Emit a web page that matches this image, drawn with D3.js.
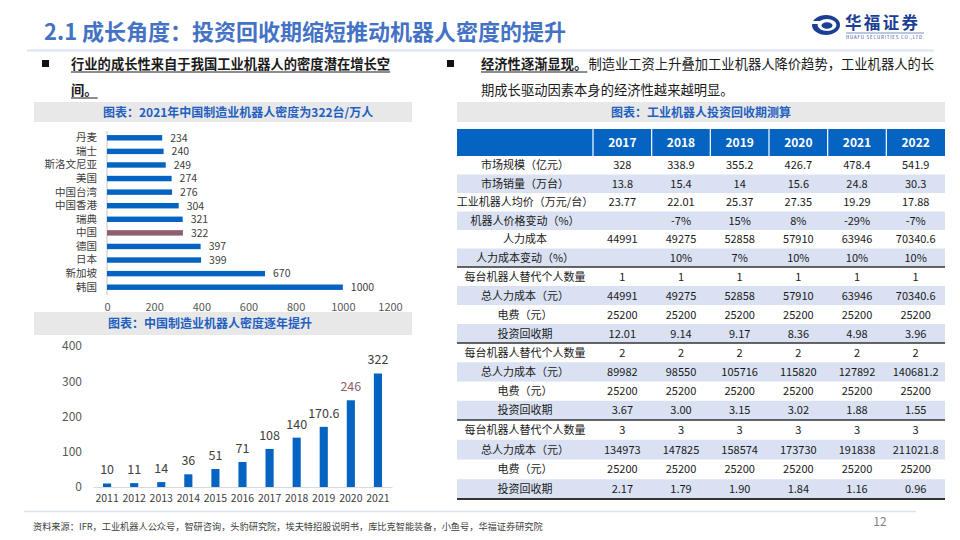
<!DOCTYPE html>
<html>
<head>
<meta charset="utf-8">
<script src="https://cdn.jsdelivr.net/npm/d3@7"></script>
<style>
  html, body { margin: 0; padding: 0; background: #fff; }
  svg { display: block; }
  text { font-family: "Noto Sans CJK SC", "Microsoft YaHei", sans-serif; }
</style>
</head>
<body>
<svg id="chart" width="960" height="540"></svg>
<script>
// ---------------- DATA ----------------
const countries = ["丹麦","瑞士","斯洛文尼亚","美国","中国台湾","中国香港","瑞典","中国","德国","日本","新加坡","韩国"];
const density2021 = [234,240,249,274,276,304,321,322,397,399,670,1000];
const densityTicks = [0,200,400,600,800,1000,1200];

const years = ["2011","2012","2013","2014","2015","2016","2017","2018","2019","2020","2021"];
const densityChina = [10,11,14,36,51,71,108,140,170.6,246,322];
const chinaTicks = [0,100,200,300,400];

const tableYears = ["2017","2018","2019","2020","2021","2022"];
const rowLabels = [
  "市场规模（亿元）","市场销量（万台）","工业机器人均价（万元/台）","机器人价格变动（%）","人力成本","人力成本变动（%）",
  "每台机器人替代个人数量","总人力成本（元）","电费（元）","投资回收期",
  "每台机器人替代个人数量","总人力成本（元）","电费（元）","投资回收期",
  "每台机器人替代个人数量","总人力成本（元）","电费（元）","投资回收期"
];
const rowValues = [
  ["328","338.9","355.2","426.7","478.4","541.9"],
  ["13.8","15.4","14","15.6","24.8","30.3"],
  ["23.77","22.01","25.37","27.35","19.29","17.88"],
  ["","-7%","15%","8%","-29%","-7%"],
  ["44991","49275","52858","57910","63946","70340.6"],
  ["","10%","7%","10%","10%","10%"],
  ["1","1","1","1","1","1"],
  ["44991","49275","52858","57910","63946","70340.6"],
  ["25200","25200","25200","25200","25200","25200"],
  ["12.01","9.14","9.17","8.36","4.98","3.96"],
  ["2","2","2","2","2","2"],
  ["89982","98550","105716","115820","127892","140681.2"],
  ["25200","25200","25200","25200","25200","25200"],
  ["3.67","3.00","3.15","3.02","1.88","1.55"],
  ["3","3","3","3","3","3"],
  ["134973","147825","158574","173730","191838","211021.8"],
  ["25200","25200","25200","25200","25200","25200"],
  ["2.17","1.79","1.90","1.84","1.16","0.96"]
];
const groupBreaks = [6,10,14];

// ---------------- STYLE ----------------
const BLUE = "#0563C1";
const MAUVE = "#8E5F6E";
const HEAD_BLUE = "#1F60C0";
const svg = d3.select("#chart");
svg.append("rect").attr("width",960).attr("height",540).attr("fill","#fff");

// ---------------- TITLE ----------------
svg.append("text").attr("x",44).attr("y",40)
  .attr("font-size",22).attr("font-weight","bold").attr("fill","#4472C4")
  .text("2.1 成长角度：投资回收期缩短推动机器人密度的提升");
svg.append("line").attr("x1",27).attr("x2",934).attr("y1",50.5).attr("y2",50.5)
  .attr("stroke","#DDE4F0").attr("stroke-width",2);

// logo
const logo = svg.append("g");
logo.append("ellipse").attr("cx",826).attr("cy",25).attr("rx",14).attr("ry",10).attr("fill","#1B3F94");
logo.append("ellipse").attr("cx",827).attr("cy",25).attr("rx",9.5).attr("ry",6).attr("fill","#fff");
logo.append("ellipse").attr("cx",827).attr("cy",25.5).attr("rx",5.5).attr("ry",3.3).attr("fill","#1B3F94");
logo.append("rect").attr("x",812).attr("y",21).attr("width",8).attr("height",3).attr("fill","#fff");
logo.append("text").attr("x",845).attr("y",28.5).attr("font-size",16.5).attr("font-weight","bold")
  .attr("fill","#1B3F94").attr("textLength",73).text("华福证券");
logo.append("line").attr("x1",846).attr("x2",924).attr("y1",33).attr("y2",33).attr("stroke","#1B3F94").attr("stroke-width",0.6);
logo.append("text").attr("x",846).attr("y",39).attr("font-size",4.4).attr("fill","#1B3F94")
  .attr("textLength",78).text("HUAFU SECURITIES CO.,LTD.");

// ---------------- BULLETS ----------------
function underlined(g, x, y, txt, opts) {
  const t = g.append("text").attr("x",x).attr("y",y).attr("font-size",13.3)
    .attr("font-weight",opts.bold ? "bold" : "normal").attr("fill","#1a1a1a").text(txt);
  const w = t.node().getComputedTextLength();
  if (opts.underline) {
    g.append("line").attr("x1",x).attr("x2",x+w).attr("y1",y+3).attr("y2",y+3)
      .attr("stroke","#1a1a1a").attr("stroke-width",1);
  }
  return w;
}
svg.append("rect").attr("x",42).attr("y",60).attr("width",7).attr("height",7).attr("fill","#111");
underlined(svg,71,69,"行业的成长性来自于我国工业机器人的密度潜在增长空",{bold:true,underline:true});
underlined(svg,71,95,"间。",{bold:true,underline:true});

svg.append("rect").attr("x",447).attr("y",60).attr("width",7).attr("height",7).attr("fill","#111");
const w1 = underlined(svg,481,69,"经济性逐渐显现。",{bold:true,underline:true});
underlined(svg,481+w1+1,69,"制造业工资上升叠加工业机器人降价趋势，工业机器人的长",{bold:false,underline:false});
underlined(svg,481,95,"期成长驱动因素本身的经济性越来越明显。",{bold:false,underline:false});

// ---------------- CHART 1 : horizontal bars ----------------
svg.append("rect").attr("x",34).attr("y",102).attr("width",378).attr("height",20).attr("fill","#E8E8E8");
svg.append("text").attr("x",103).attr("y",116.5).attr("font-size",12).attr("font-weight","bold")
  .attr("fill",HEAD_BLUE).text("图表：2021年中国制造业机器人密度为322台/万人");

const hx = d3.scaleLinear().domain([0,1200]).range([107,390]);
const hy = d3.scaleBand().domain(countries).range([131,294]).paddingInner(0.6).paddingOuter(0.3);

svg.append("line").attr("x1",107).attr("x2",107).attr("y1",131).attr("y2",295)
  .attr("stroke","#D9D9D9").attr("stroke-width",1.5);

svg.append("g").selectAll("rect").data(countries).join("rect")
  .attr("x",hx(0)).attr("y",d=>hy(d))
  .attr("width",(d,i)=>hx(density2021[i])-hx(0))
  .attr("height",hy.bandwidth())
  .attr("fill",d=> d==="中国" ? MAUVE : BLUE);

svg.append("g").selectAll("text").data(countries).join("text")
  .attr("x",(d,i)=>hx(density2021[i])+8)
  .attr("y",d=>hy(d)+hy.bandwidth()/2+3.8)
  .attr("font-size",10.5).attr("fill","#404040")
  .text((d,i)=>density2021[i]);

const hyAxis = svg.append("g").attr("transform","translate(107,0)")
  .call(d3.axisLeft(hy).tickSize(0).tickPadding(10));
hyAxis.select(".domain").remove();
hyAxis.selectAll("text").attr("font-size",10.5).attr("fill","#404040")
  .attr("font-family","\"Noto Sans CJK SC\", sans-serif");

const hxAxis = svg.append("g").attr("transform","translate(0,294)")
  .call(d3.axisBottom(hx).tickValues(densityTicks).tickFormat(d3.format("d")).tickSize(0).tickPadding(9));
hxAxis.select(".domain").remove();
hxAxis.selectAll("text").attr("font-size",11).attr("fill","#595959")
  .attr("font-family","\"Noto Sans CJK SC\", sans-serif");

// ---------------- CHART 2 : vertical bars ----------------
svg.append("rect").attr("x",34).attr("y",312).attr("width",378).attr("height",23).attr("fill","#E8E8E8");
svg.append("text").attr("x",108).attr("y",328).attr("font-size",12).attr("font-weight","bold")
  .attr("fill",HEAD_BLUE).text("图表：中国制造业机器人密度逐年提升");

const vx = d3.scaleBand().domain(years).range([93,392]).paddingInner(0.7).paddingOuter(0.37);
const vy = d3.scaleLinear().domain([0,400]).range([487,346]);

svg.append("g").selectAll("rect").data(years).join("rect")
  .attr("x",d=>vx(d)).attr("width",vx.bandwidth())
  .attr("y",(d,i)=>vy(densityChina[i]))
  .attr("height",(d,i)=>vy(0)-vy(densityChina[i]))
  .attr("fill",BLUE);

svg.append("g").selectAll("text").data(years).join("text")
  .attr("x",d=>vx(d)+vx.bandwidth()/2)
  .attr("y",(d,i)=>vy(densityChina[i])-9)
  .attr("text-anchor","middle").attr("font-size",12.5)
  .attr("fill",d=> d==="2020" ? MAUVE : "#404040")
  .text((d,i)=>densityChina[i]);

const vxAxis = svg.append("g").attr("transform","translate(0,487)")
  .call(d3.axisBottom(vx).tickSize(0).tickPadding(8));
vxAxis.select(".domain").attr("stroke","#D9D9D9").attr("stroke-width",1.2);
vxAxis.selectAll("text").attr("font-size",10.5).attr("fill","#404040")
  .attr("font-family","\"Noto Sans CJK SC\", sans-serif");

const vyAxis = svg.append("g").attr("transform","translate(88,0)")
  .call(d3.axisLeft(vy).tickValues(chinaTicks).tickSize(0).tickPadding(6));
vyAxis.select(".domain").remove();
vyAxis.selectAll("text").attr("font-size",12).attr("fill","#595959")
  .attr("font-family","\"Noto Sans CJK SC\", sans-serif");

// ---------------- TABLE ----------------
const tLeft = 457, tRight = 945, labelRight = 593;
svg.append("rect").attr("x",tLeft).attr("y",102).attr("width",tRight-tLeft).attr("height",20).attr("fill","#E8E8E8");
svg.append("text").attr("x",(tLeft+tRight)/2).attr("y",116.5).attr("text-anchor","middle")
  .attr("font-size",12).attr("font-weight","bold").attr("fill",HEAD_BLUE).text("图表：工业机器人投资回收期测算");

const cx = d3.scaleBand().domain(tableYears).range([labelRight,tRight]);
const ry = d3.scaleLinear().domain([0,6,10,14,18]).range([156,267,343,420,499]);

// header
svg.append("rect").attr("x",tLeft).attr("y",129).attr("width",tRight-tLeft).attr("height",27).attr("fill",BLUE);
svg.append("g").selectAll("line").data(tableYears).join("line")
  .attr("x1",d=>cx(d)).attr("x2",d=>cx(d)).attr("y1",129).attr("y2",156)
  .attr("stroke","#fff").attr("stroke-width",1.2);
svg.append("g").selectAll("text").data(tableYears).join("text")
  .attr("x",d=>cx(d)+cx.bandwidth()/2).attr("y",147)
  .attr("text-anchor","middle").attr("font-size",12).attr("font-weight","bold").attr("fill","#fff")
  .text(d=>d);

// row bands
const rowsG = svg.append("g");
rowLabels.forEach((lab,i)=>{
  const y0 = ry(i), y1 = ry(i+1);
  if (i % 2 === 1) {
    rowsG.append("rect").attr("x",tLeft).attr("y",y0).attr("width",tRight-tLeft).attr("height",y1-y0).attr("fill","#D9E1F2");
  }
  const yc = (y0+y1)/2 + 4;
  rowsG.append("text").attr("x",(tLeft+labelRight)/2).attr("y",yc).attr("text-anchor","middle")
    .attr("font-size",11).attr("fill","#1a1a1a").text(lab);
  rowValues[i].forEach((v,j)=>{
    rowsG.append("text").attr("x",cx(tableYears[j])+cx.bandwidth()/2).attr("y",yc)
      .attr("text-anchor","middle").attr("font-size",11).attr("fill","#1a1a1a").text(v);
  });
});
svg.append("g").selectAll("line").data(groupBreaks).join("line")
  .attr("x1",tLeft).attr("x2",tRight).attr("y1",d=>ry(d)).attr("y2",d=>ry(d))
  .attr("stroke","#333").attr("stroke-width",1.5);
svg.append("line").attr("x1",tLeft).attr("x2",tRight).attr("y1",ry(18)).attr("y2",ry(18))
  .attr("stroke","#333").attr("stroke-width",2);

// ---------------- FOOTER ----------------
svg.append("line").attr("x1",24).attr("x2",916).attr("y1",511.5).attr("y2",511.5)
  .attr("stroke","#DDE4F0").attr("stroke-width",1.5);
svg.append("text").attr("x",33).attr("y",530).attr("font-size",9.2).attr("fill","#404040")
  .text("资料来源：IFR，工业机器人公众号，智研咨询，头豹研究院，埃夫特招股说明书，库比克智能装备，小鱼号，华福证券研究院");
svg.append("text").attr("x",880).attr("y",526).attr("text-anchor","middle").attr("font-size",12).attr("fill","#7F7F7F").text("12");
</script>
</body>
</html>
